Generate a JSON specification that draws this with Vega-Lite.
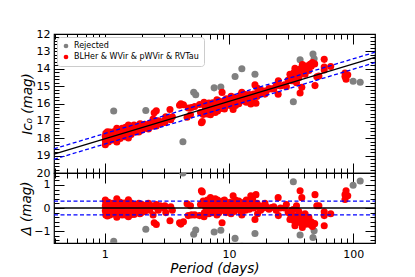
{
  "$schema": "https://vega.github.io/schema/vega-lite/v6.json",
  "padding": {"left": 19, "top": 27, "right": 5, "bottom": 0},
  "background": "white",
  "spacing": 0,
  "bounds": "flush",
  "config": {
    "view": {"stroke": "black", "strokeWidth": 1.2},
    "axis": {"domain": false, "grid": false, "tickColor": "black", "tickWidth": 1, "labelColor": "black", "labelFont": "DejaVu Sans", "labelFontSize": 11, "titleFont": "DejaVu Sans", "titleFontSize": 13.5, "titleFontWeight": "normal", "titleFontStyle": "italic", "titleColor": "black", "labelFlush": false, "labelOverlap": false, "labelBound": false}
  },
  "datasets": {
    "pts": [
      {"P":1.18,"m":16.43,"d":-1.45,"c":"Rejected"},
      {"P":2.14,"m":16.40,"d":-0.92,"c":"Rejected"},
      {"P":4.26,"m":18.20,"d":1.52,"c":"Rejected"},
      {"P":5.2,"m":15.35,"d":-1.14,"c":"Rejected"},
      {"P":5.4,"m":15.50,"d":-0.96,"c":"Rejected"},
      {"P":7.6,"m":15.10,"d":-1.04,"c":"Rejected"},
      {"P":8.6,"m":15.05,"d":-0.97,"c":"Rejected"},
      {"P":11.2,"m":14.45,"d":-1.32,"c":"Rejected"},
      {"P":12.7,"m":14.00,"d":-1.66,"c":"Rejected"},
      {"P":16.2,"m":14.32,"d":-1.11,"c":"Rejected"},
      {"P":33,"m":15.90,"d":1.14,"c":"Rejected"},
      {"P":37.4,"m":13.48,"d":-1.17,"c":"Rejected"},
      {"P":47.5,"m":13.15,"d":-1.28,"c":"Rejected"},
      {"P":48.5,"m":13.42,"d":-0.99,"c":"Rejected"},
      {"P":100,"m":14.72,"d":0.99,"c":"Rejected"},
      {"P":114,"m":14.78,"d":1.17,"c":"Rejected"},
      {"P":1.01,"m":18.37,"d":0.35,"c":"BLHer & WVir & pWVir & RVTau"},
      {"P":1.01,"m":18.12,"d":0.10,"c":"BLHer & WVir & pWVir & RVTau"},
      {"P":1.01,"m":17.90,"d":-0.12,"c":"BLHer & WVir & pWVir & RVTau"},
      {"P":1.02,"m":17.71,"d":-0.30,"c":"BLHer & WVir & pWVir & RVTau"},
      {"P":1.02,"m":18.23,"d":0.22,"c":"BLHer & WVir & pWVir & RVTau"},
      {"P":1.03,"m":17.80,"d":-0.20,"c":"BLHer & WVir & pWVir & RVTau"},
      {"P":1.03,"m":18.00,"d":0.00,"c":"BLHer & WVir & pWVir & RVTau"},
      {"P":1.04,"m":18.14,"d":0.15,"c":"BLHer & WVir & pWVir & RVTau"},
      {"P":1.05,"m":17.63,"d":-0.35,"c":"BLHer & WVir & pWVir & RVTau"},
      {"P":1.06,"m":18.03,"d":0.05,"c":"BLHer & WVir & pWVir & RVTau"},
      {"P":1.07,"m":18.22,"d":0.25,"c":"BLHer & WVir & pWVir & RVTau"},
      {"P":1.08,"m":17.81,"d":-0.15,"c":"BLHer & WVir & pWVir & RVTau"},
      {"P":1.10,"m":18.04,"d":0.10,"c":"BLHer & WVir & pWVir & RVTau"},
      {"P":1.10,"m":17.64,"d":-0.30,"c":"BLHer & WVir & pWVir & RVTau"},
      {"P":1.12,"m":17.92,"d":0.00,"c":"BLHer & WVir & pWVir & RVTau"},
      {"P":1.13,"m":17.70,"d":-0.22,"c":"BLHer & WVir & pWVir & RVTau"},
      {"P":1.15,"m":17.80,"d":-0.10,"c":"BLHer & WVir & pWVir & RVTau"},
      {"P":1.15,"m":18.10,"d":0.20,"c":"BLHer & WVir & pWVir & RVTau"},
      {"P":1.18,"m":17.63,"d":-0.25,"c":"BLHer & WVir & pWVir & RVTau"},
      {"P":1.20,"m":17.91,"d":0.05,"c":"BLHer & WVir & pWVir & RVTau"},
      {"P":1.22,"m":17.79,"d":-0.05,"c":"BLHer & WVir & pWVir & RVTau"},
      {"P":1.25,"m":18.22,"d":0.40,"c":"BLHer & WVir & pWVir & RVTau"},
      {"P":1.25,"m":17.92,"d":0.10,"c":"BLHer & WVir & pWVir & RVTau"},
      {"P":1.25,"m":17.42,"d":-0.40,"c":"BLHer & WVir & pWVir & RVTau"},
      {"P":1.27,"m":18.03,"d":0.22,"c":"BLHer & WVir & pWVir & RVTau"},
      {"P":1.28,"m":17.60,"d":-0.20,"c":"BLHer & WVir & pWVir & RVTau"},
      {"P":1.30,"m":17.79,"d":0.00,"c":"BLHer & WVir & pWVir & RVTau"},
      {"P":1.32,"m":17.67,"d":-0.10,"c":"BLHer & WVir & pWVir & RVTau"},
      {"P":1.33,"m":18.01,"d":0.25,"c":"BLHer & WVir & pWVir & RVTau"},
      {"P":1.35,"m":17.90,"d":0.15,"c":"BLHer & WVir & pWVir & RVTau"},
      {"P":1.36,"m":17.66,"d":-0.08,"c":"BLHer & WVir & pWVir & RVTau"},
      {"P":1.38,"m":17.43,"d":-0.30,"c":"BLHer & WVir & pWVir & RVTau"},
      {"P":1.40,"m":17.77,"d":0.05,"c":"BLHer & WVir & pWVir & RVTau"},
      {"P":1.42,"m":17.55,"d":-0.15,"c":"BLHer & WVir & pWVir & RVTau"},
      {"P":1.44,"m":17.91,"d":0.22,"c":"BLHer & WVir & pWVir & RVTau"},
      {"P":1.45,"m":17.78,"d":0.10,"c":"BLHer & WVir & pWVir & RVTau"},
      {"P":1.47,"m":17.37,"d":-0.30,"c":"BLHer & WVir & pWVir & RVTau"},
      {"P":1.48,"m":17.66,"d":0.00,"c":"BLHer & WVir & pWVir & RVTau"},
      {"P":1.50,"m":17.45,"d":-0.20,"c":"BLHer & WVir & pWVir & RVTau"},
      {"P":1.52,"m":17.79,"d":0.15,"c":"BLHer & WVir & pWVir & RVTau"},
      {"P":1.55,"m":17.98,"d":0.36,"c":"BLHer & WVir & pWVir & RVTau"},
      {"P":1.55,"m":17.57,"d":-0.05,"c":"BLHer & WVir & pWVir & RVTau"},
      {"P":1.55,"m":17.24,"d":-0.38,"c":"BLHer & WVir & pWVir & RVTau"},
      {"P":1.58,"m":17.80,"d":0.20,"c":"BLHer & WVir & pWVir & RVTau"},
      {"P":1.60,"m":17.29,"d":-0.30,"c":"BLHer & WVir & pWVir & RVTau"},
      {"P":1.62,"m":17.63,"d":0.05,"c":"BLHer & WVir & pWVir & RVTau"},
      {"P":1.63,"m":17.79,"d":0.22,"c":"BLHer & WVir & pWVir & RVTau"},
      {"P":1.65,"m":17.46,"d":-0.10,"c":"BLHer & WVir & pWVir & RVTau"},
      {"P":1.68,"m":17.65,"d":0.10,"c":"BLHer & WVir & pWVir & RVTau"},
      {"P":1.70,"m":17.53,"d":0.00,"c":"BLHer & WVir & pWVir & RVTau"},
      {"P":1.72,"m":17.24,"d":-0.28,"c":"BLHer & WVir & pWVir & RVTau"},
      {"P":1.75,"m":17.31,"d":-0.20,"c":"BLHer & WVir & pWVir & RVTau"},
      {"P":1.78,"m":17.64,"d":0.15,"c":"BLHer & WVir & pWVir & RVTau"},
      {"P":1.80,"m":17.53,"d":0.05,"c":"BLHer & WVir & pWVir & RVTau"},
      {"P":1.85,"m":17.36,"d":-0.10,"c":"BLHer & WVir & pWVir & RVTau"},
      {"P":1.88,"m":17.64,"d":0.20,"c":"BLHer & WVir & pWVir & RVTau"},
      {"P":1.90,"m":17.53,"d":0.10,"c":"BLHer & WVir & pWVir & RVTau"},
      {"P":1.92,"m":17.17,"d":-0.25,"c":"BLHer & WVir & pWVir & RVTau"},
      {"P":1.95,"m":17.46,"d":0.05,"c":"BLHer & WVir & pWVir & RVTau"},
      {"P":1.98,"m":17.19,"d":-0.20,"c":"BLHer & WVir & pWVir & RVTau"},
      {"P":2.00,"m":17.53,"d":0.15,"c":"BLHer & WVir & pWVir & RVTau"},
      {"P":2.00,"m":17.33,"d":-0.05,"c":"BLHer & WVir & pWVir & RVTau"},
      {"P":2.05,"m":17.36,"d":0.00,"c":"BLHer & WVir & pWVir & RVTau"},
      {"P":2.10,"m":17.19,"d":-0.15,"c":"BLHer & WVir & pWVir & RVTau"},
      {"P":2.15,"m":17.42,"d":0.10,"c":"BLHer & WVir & pWVir & RVTau"},
      {"P":2.20,"m":17.34,"d":0.05,"c":"BLHer & WVir & pWVir & RVTau"},
      {"P":2.25,"m":17.47,"d":0.20,"c":"BLHer & WVir & pWVir & RVTau"},
      {"P":2.30,"m":17.15,"d":-0.10,"c":"BLHer & WVir & pWVir & RVTau"},
      {"P":2.40,"m":17.31,"d":0.10,"c":"BLHer & WVir & pWVir & RVTau"},
      {"P":2.45,"m":16.89,"d":-0.30,"c":"BLHer & WVir & pWVir & RVTau"},
      {"P":2.50,"m":16.53,"d":-0.64,"c":"BLHer & WVir & pWVir & RVTau"},
      {"P":2.55,"m":17.21,"d":0.05,"c":"BLHer & WVir & pWVir & RVTau"},
      {"P":2.60,"m":16.42,"d":-0.72,"c":"BLHer & WVir & pWVir & RVTau"},
      {"P":2.60,"m":17.29,"d":0.15,"c":"BLHer & WVir & pWVir & RVTau"},
      {"P":2.70,"m":17.00,"d":-0.10,"c":"BLHer & WVir & pWVir & RVTau"},
      {"P":2.80,"m":17.17,"d":0.10,"c":"BLHer & WVir & pWVir & RVTau"},
      {"P":3.00,"m":17.00,"d":0.00,"c":"BLHer & WVir & pWVir & RVTau"},
      {"P":3.05,"m":17.09,"d":0.10,"c":"BLHer & WVir & pWVir & RVTau"},
      {"P":3.10,"m":16.77,"d":-0.20,"c":"BLHer & WVir & pWVir & RVTau"},
      {"P":3.35,"m":16.35,"d":-0.55,"c":"BLHer & WVir & pWVir & RVTau"},
      {"P":3.40,"m":16.94,"d":0.05,"c":"BLHer & WVir & pWVir & RVTau"},
      {"P":3.50,"m":16.76,"d":-0.10,"c":"BLHer & WVir & pWVir & RVTau"},
      {"P":4.0,"m":16.10,"d":-0.64,"c":"BLHer & WVir & pWVir & RVTau"},
      {"P":4.1,"m":16.01,"d":-0.70,"c":"BLHer & WVir & pWVir & RVTau"},
      {"P":4.3,"m":16.07,"d":-0.60,"c":"BLHer & WVir & pWVir & RVTau"},
      {"P":4.6,"m":16.79,"d":0.18,"c":"BLHer & WVir & pWVir & RVTau"},
      {"P":4.7,"m":16.26,"d":-0.33,"c":"BLHer & WVir & pWVir & RVTau"},
      {"P":4.9,"m":16.65,"d":0.10,"c":"BLHer & WVir & pWVir & RVTau"},
      {"P":5.0,"m":16.23,"d":-0.30,"c":"BLHer & WVir & pWVir & RVTau"},
      {"P":5.3,"m":16.17,"d":-0.30,"c":"BLHer & WVir & pWVir & RVTau"},
      {"P":5.8,"m":16.06,"d":-0.33,"c":"BLHer & WVir & pWVir & RVTau"},
      {"P":5.9,"m":16.52,"d":0.15,"c":"BLHer & WVir & pWVir & RVTau"},
      {"P":6.0,"m":17.11,"d":0.75,"c":"BLHer & WVir & pWVir & RVTau"},
      {"P":6.1,"m":17.04,"d":0.70,"c":"BLHer & WVir & pWVir & RVTau"},
      {"P":6.2,"m":16.63,"d":0.30,"c":"BLHer & WVir & pWVir & RVTau"},
      {"P":6.3,"m":15.93,"d":-0.38,"c":"BLHer & WVir & pWVir & RVTau"},
      {"P":6.35,"m":16.10,"d":-0.20,"c":"BLHer & WVir & pWVir & RVTau"},
      {"P":6.4,"m":16.40,"d":0.10,"c":"BLHer & WVir & pWVir & RVTau"},
      {"P":6.5,"m":16.48,"d":0.20,"c":"BLHer & WVir & pWVir & RVTau"},
      {"P":6.6,"m":16.17,"d":-0.10,"c":"BLHer & WVir & pWVir & RVTau"},
      {"P":6.7,"m":16.60,"d":0.35,"c":"BLHer & WVir & pWVir & RVTau"},
      {"P":6.8,"m":16.24,"d":0.00,"c":"BLHer & WVir & pWVir & RVTau"},
      {"P":6.9,"m":15.98,"d":-0.25,"c":"BLHer & WVir & pWVir & RVTau"},
      {"P":7.0,"m":16.36,"d":0.15,"c":"BLHer & WVir & pWVir & RVTau"},
      {"P":7.05,"m":16.06,"d":-0.15,"c":"BLHer & WVir & pWVir & RVTau"},
      {"P":7.1,"m":16.65,"d":0.45,"c":"BLHer & WVir & pWVir & RVTau"},
      {"P":7.2,"m":16.14,"d":-0.05,"c":"BLHer & WVir & pWVir & RVTau"},
      {"P":7.3,"m":16.42,"d":0.25,"c":"BLHer & WVir & pWVir & RVTau"},
      {"P":7.4,"m":15.96,"d":-0.20,"c":"BLHer & WVir & pWVir & RVTau"},
      {"P":7.5,"m":16.25,"d":0.10,"c":"BLHer & WVir & pWVir & RVTau"},
      {"P":7.6,"m":16.44,"d":0.30,"c":"BLHer & WVir & pWVir & RVTau"},
      {"P":7.7,"m":16.02,"d":-0.10,"c":"BLHer & WVir & pWVir & RVTau"},
      {"P":7.75,"m":16.52,"d":0.40,"c":"BLHer & WVir & pWVir & RVTau"},
      {"P":7.8,"m":16.16,"d":0.05,"c":"BLHer & WVir & pWVir & RVTau"},
      {"P":7.9,"m":16.30,"d":0.20,"c":"BLHer & WVir & pWVir & RVTau"},
      {"P":8.0,"m":15.79,"d":-0.30,"c":"BLHer & WVir & pWVir & RVTau"},
      {"P":8.1,"m":16.43,"d":0.35,"c":"BLHer & WVir & pWVir & RVTau"},
      {"P":8.2,"m":16.06,"d":0.00,"c":"BLHer & WVir & pWVir & RVTau"},
      {"P":8.25,"m":15.84,"d":-0.22,"c":"BLHer & WVir & pWVir & RVTau"},
      {"P":8.3,"m":16.20,"d":0.15,"c":"BLHer & WVir & pWVir & RVTau"},
      {"P":8.4,"m":15.89,"d":-0.15,"c":"BLHer & WVir & pWVir & RVTau"},
      {"P":8.5,"m":16.28,"d":0.25,"c":"BLHer & WVir & pWVir & RVTau"},
      {"P":8.6,"m":16.07,"d":0.05,"c":"BLHer & WVir & pWVir & RVTau"},
      {"P":8.8,"m":15.36,"d":-0.64,"c":"BLHer & WVir & pWVir & RVTau"},
      {"P":8.9,"m":16.29,"d":0.30,"c":"BLHer & WVir & pWVir & RVTau"},
      {"P":9.0,"m":15.88,"d":-0.10,"c":"BLHer & WVir & pWVir & RVTau"},
      {"P":9.1,"m":16.07,"d":0.10,"c":"BLHer & WVir & pWVir & RVTau"},
      {"P":9.2,"m":16.31,"d":0.35,"c":"BLHer & WVir & pWVir & RVTau"},
      {"P":9.3,"m":16.15,"d":0.20,"c":"BLHer & WVir & pWVir & RVTau"},
      {"P":9.5,"m":15.73,"d":-0.20,"c":"BLHer & WVir & pWVir & RVTau"},
      {"P":9.6,"m":15.92,"d":0.00,"c":"BLHer & WVir & pWVir & RVTau"},
      {"P":9.8,"m":16.05,"d":0.15,"c":"BLHer & WVir & pWVir & RVTau"},
      {"P":10.0,"m":15.83,"d":-0.05,"c":"BLHer & WVir & pWVir & RVTau"},
      {"P":10.2,"m":16.11,"d":0.25,"c":"BLHer & WVir & pWVir & RVTau"},
      {"P":10.4,"m":15.59,"d":-0.25,"c":"BLHer & WVir & pWVir & RVTau"},
      {"P":10.5,"m":15.88,"d":0.05,"c":"BLHer & WVir & pWVir & RVTau"},
      {"P":10.8,"m":16.34,"d":0.53,"c":"BLHer & WVir & pWVir & RVTau"},
      {"P":11.0,"m":15.64,"d":-0.15,"c":"BLHer & WVir & pWVir & RVTau"},
      {"P":11.2,"m":15.87,"d":0.10,"c":"BLHer & WVir & pWVir & RVTau"},
      {"P":11.3,"m":16.12,"d":0.35,"c":"BLHer & WVir & pWVir & RVTau"},
      {"P":11.5,"m":15.95,"d":0.20,"c":"BLHer & WVir & pWVir & RVTau"},
      {"P":11.8,"m":15.68,"d":-0.05,"c":"BLHer & WVir & pWVir & RVTau"},
      {"P":12.0,"m":16.01,"d":0.30,"c":"BLHer & WVir & pWVir & RVTau"},
      {"P":12.3,"m":15.69,"d":0.00,"c":"BLHer & WVir & pWVir & RVTau"},
      {"P":12.5,"m":15.47,"d":-0.20,"c":"BLHer & WVir & pWVir & RVTau"},
      {"P":12.7,"m":15.36,"d":-0.30,"c":"BLHer & WVir & pWVir & RVTau"},
      {"P":12.8,"m":15.80,"d":0.15,"c":"BLHer & WVir & pWVir & RVTau"},
      {"P":13.0,"m":15.69,"d":0.05,"c":"BLHer & WVir & pWVir & RVTau"},
      {"P":13.3,"m":15.86,"d":0.25,"c":"BLHer & WVir & pWVir & RVTau"},
      {"P":13.6,"m":15.49,"d":-0.10,"c":"BLHer & WVir & pWVir & RVTau"},
      {"P":13.8,"m":15.93,"d":0.35,"c":"BLHer & WVir & pWVir & RVTau"},
      {"P":14.0,"m":15.67,"d":0.10,"c":"BLHer & WVir & pWVir & RVTau"},
      {"P":14.3,"m":15.85,"d":0.30,"c":"BLHer & WVir & pWVir & RVTau"},
      {"P":14.6,"m":15.48,"d":-0.05,"c":"BLHer & WVir & pWVir & RVTau"},
      {"P":15.0,"m":16.03,"d":0.53,"c":"BLHer & WVir & pWVir & RVTau"},
      {"P":15.2,"m":15.64,"d":0.15,"c":"BLHer & WVir & pWVir & RVTau"},
      {"P":15.5,"m":15.87,"d":0.40,"c":"BLHer & WVir & pWVir & RVTau"},
      {"P":15.8,"m":15.45,"d":0.00,"c":"BLHer & WVir & pWVir & RVTau"},
      {"P":16.2,"m":14.93,"d":-0.50,"c":"BLHer & WVir & pWVir & RVTau"},
      {"P":16.5,"m":15.99,"d":0.58,"c":"BLHer & WVir & pWVir & RVTau"},
      {"P":16.8,"m":15.60,"d":0.20,"c":"BLHer & WVir & pWVir & RVTau"},
      {"P":17.0,"m":15.13,"d":-0.25,"c":"BLHer & WVir & pWVir & RVTau"},
      {"P":17.2,"m":15.42,"d":0.05,"c":"BLHer & WVir & pWVir & RVTau"},
      {"P":17.6,"m":15.45,"d":0.10,"c":"BLHer & WVir & pWVir & RVTau"},
      {"P":18.0,"m":15.23,"d":-0.10,"c":"BLHer & WVir & pWVir & RVTau"},
      {"P":18.5,"m":15.36,"d":0.05,"c":"BLHer & WVir & pWVir & RVTau"},
      {"P":19.0,"m":15.28,"d":0.00,"c":"BLHer & WVir & pWVir & RVTau"},
      {"P":19.5,"m":15.46,"d":0.20,"c":"BLHer & WVir & pWVir & RVTau"},
      {"P":20.0,"m":15.28,"d":0.05,"c":"BLHer & WVir & pWVir & RVTau"},
      {"P":21.0,"m":15.14,"d":-0.05,"c":"BLHer & WVir & pWVir & RVTau"},
      {"P":22.0,"m":15.16,"d":0.02,"c":"BLHer & WVir & pWVir & RVTau"},
      {"P":23.0,"m":15.15,"d":0.05,"c":"BLHer & WVir & pWVir & RVTau"},
      {"P":24.0,"m":14.96,"d":-0.10,"c":"BLHer & WVir & pWVir & RVTau"},
      {"P":24.9,"m":15.47,"d":0.45,"c":"BLHer & WVir & pWVir & RVTau"},
      {"P":25.0,"m":14.69,"d":-0.33,"c":"BLHer & WVir & pWVir & RVTau"},
      {"P":26.0,"m":14.99,"d":0.00,"c":"BLHer & WVir & pWVir & RVTau"},
      {"P":28,"m":14.92,"d":0.00,"c":"BLHer & WVir & pWVir & RVTau"},
      {"P":29,"m":15.04,"d":0.15,"c":"BLHer & WVir & pWVir & RVTau"},
      {"P":30,"m":14.65,"d":-0.20,"c":"BLHer & WVir & pWVir & RVTau"},
      {"P":31,"m":14.32,"d":-0.50,"c":"BLHer & WVir & pWVir & RVTau"},
      {"P":31.5,"m":14.51,"d":-0.30,"c":"BLHer & WVir & pWVir & RVTau"},
      {"P":32,"m":14.69,"d":-0.10,"c":"BLHer & WVir & pWVir & RVTau"},
      {"P":33,"m":14.69,"d":-0.07,"c":"BLHer & WVir & pWVir & RVTau"},
      {"P":33.5,"m":14.20,"d":-0.55,"c":"BLHer & WVir & pWVir & RVTau"},
      {"P":34,"m":13.97,"d":-0.77,"c":"BLHer & WVir & pWVir & RVTau"},
      {"P":34.5,"m":14.37,"d":-0.35,"c":"BLHer & WVir & pWVir & RVTau"},
      {"P":35,"m":14.81,"d":0.10,"c":"BLHer & WVir & pWVir & RVTau"},
      {"P":35.5,"m":14.10,"d":-0.60,"c":"BLHer & WVir & pWVir & RVTau"},
      {"P":36,"m":14.23,"d":-0.45,"c":"BLHer & WVir & pWVir & RVTau"},
      {"P":36.5,"m":14.52,"d":-0.15,"c":"BLHer & WVir & pWVir & RVTau"},
      {"P":37,"m":14.36,"d":-0.30,"c":"BLHer & WVir & pWVir & RVTau"},
      {"P":37.4,"m":15.40,"d":0.75,"c":"BLHer & WVir & pWVir & RVTau"},
      {"P":38,"m":13.98,"d":-0.65,"c":"BLHer & WVir & pWVir & RVTau"},
      {"P":38.6,"m":15.07,"d":0.45,"c":"BLHer & WVir & pWVir & RVTau"},
      {"P":39,"m":13.76,"d":-0.85,"c":"BLHer & WVir & pWVir & RVTau"},
      {"P":40,"m":14.09,"d":-0.50,"c":"BLHer & WVir & pWVir & RVTau"},
      {"P":41,"m":14.31,"d":-0.25,"c":"BLHer & WVir & pWVir & RVTau"},
      {"P":42,"m":13.84,"d":-0.70,"c":"BLHer & WVir & pWVir & RVTau"},
      {"P":43,"m":13.97,"d":-0.55,"c":"BLHer & WVir & pWVir & RVTau"},
      {"P":44,"m":14.10,"d":-0.40,"c":"BLHer & WVir & pWVir & RVTau"},
      {"P":45,"m":13.75,"d":-0.72,"c":"BLHer & WVir & pWVir & RVTau"},
      {"P":46,"m":13.86,"d":-0.60,"c":"BLHer & WVir & pWVir & RVTau"},
      {"P":47,"m":13.64,"d":-0.80,"c":"BLHer & WVir & pWVir & RVTau"},
      {"P":49,"m":13.72,"d":-0.68,"c":"BLHer & WVir & pWVir & RVTau"},
      {"P":49.3,"m":14.97,"d":0.58,"c":"BLHer & WVir & pWVir & RVTau"},
      {"P":51,"m":14.46,"d":0.10,"c":"BLHer & WVir & pWVir & RVTau"},
      {"P":53,"m":14.42,"d":0.10,"c":"BLHer & WVir & pWVir & RVTau"},
      {"P":58.5,"m":14.07,"d":-0.16,"c":"BLHer & WVir & pWVir & RVTau"},
      {"P":58.5,"m":13.90,"d":-0.33,"c":"BLHer & WVir & pWVir & RVTau"},
      {"P":58.5,"m":13.46,"d":-0.77,"c":"BLHer & WVir & pWVir & RVTau"},
      {"P":66,"m":13.87,"d":-0.25,"c":"BLHer & WVir & pWVir & RVTau"},
      {"P":86,"m":14.45,"d":0.58,"c":"BLHer & WVir & pWVir & RVTau"},
      {"P":86,"m":14.24,"d":0.37,"c":"BLHer & WVir & pWVir & RVTau"},
      {"P":87.7,"m":14.60,"d":0.75,"c":"BLHer & WVir & pWVir & RVTau"},
      {"P":90.5,"m":14.35,"d":0.53,"c":"BLHer & WVir & pWVir & RVTau"}
    ],
    "fit": [{"P":0.39,"m":18.91,"d":0},{"P":150,"m":13.35,"d":0}],
    "up": [{"P":0.39,"m":18.61,"d":0.3},{"P":150,"m":13.05,"d":0.3}],
    "lo": [{"P":0.39,"m":19.21,"d":-0.3},{"P":150,"m":13.65,"d":-0.3}]
  },
  "vconcat": [
    {
      "width": 321,
      "height": 139,
      "resolve": {"axis": {"x": "independent", "y": "independent"}},
      "layer": [
        {
          "data": {"name": "pts"},
          "mark": {"type": "point", "filled": true, "size": 50, "opacity": 1, "strokeWidth": 0},
          "encoding": {
            "x": {"field": "P", "type": "quantitative", "scale": {"type": "log", "domain": [0.39, 150], "nice": false}, "axis": {"orient": "bottom", "values": [1, 10, 100], "tickSize": -10, "labels": false, "title": null}},
            "y": {"field": "m", "type": "quantitative", "scale": {"domain": [12, 20], "reverse": true, "nice": false, "zero": false}, "axis": {"orient": "left", "values": [12, 13, 14, 15, 16, 17, 18, 19, 20], "tickSize": -10, "labelPadding": 14, "title": "Ic₀ (mag)", "titlePadding": 2}},
            "color": {"field": "c", "type": "nominal", "scale": {"domain": ["Rejected", "BLHer & WVir & pWVir & RVTau"], "range": ["#808080", "#ff0000"]}, "legend": {"title": null, "orient": "top-left", "offset": 3, "padding": 5, "fillColor": "white", "strokeColor": "#cccccc", "cornerRadius": 3, "labelFontSize": 8, "labelFont": "DejaVu Sans", "labelColor": "black", "symbolSize": 22, "symbolType": "circle", "rowPadding": 3, "labelOffset": 4}}
          }
        },
        {
          "data": {"name": "fit"},
          "mark": {"type": "line", "color": "black", "strokeWidth": 1.3},
          "encoding": {
            "x": {"field": "P", "type": "quantitative", "scale": {"type": "log", "domain": [0.39, 150], "nice": false}, "axis": {"orient": "bottom", "values": [0.4, 0.5, 0.6, 0.7, 0.8, 0.9, 2, 3, 4, 5, 6, 7, 8, 9, 20, 30, 40, 50, 60, 70, 80, 90], "tickSize": -5, "labels": false, "title": null}},
            "y": {"field": "m", "type": "quantitative", "scale": {"domain": [12, 20], "reverse": true, "nice": false, "zero": false}, "axis": {"orient": "left", "values": [12.2, 12.4, 12.6, 12.8, 13.2, 13.4, 13.6, 13.8, 14.2, 14.4, 14.6, 14.8, 15.2, 15.4, 15.6, 15.8, 16.2, 16.4, 16.6, 16.8, 17.2, 17.4, 17.6, 17.8, 18.2, 18.4, 18.6, 18.8, 19.2, 19.4, 19.6, 19.8], "tickSize": -5, "labels": false, "title": null}}
          }
        },
        {
          "data": {"name": "up"},
          "mark": {"type": "line", "color": "#0000ff", "strokeWidth": 1.3, "strokeDash": [4, 2.5]},
          "encoding": {
            "x": {"field": "P", "type": "quantitative", "scale": {"type": "log", "domain": [0.39, 150], "nice": false}, "axis": {"orient": "top", "values": [1, 10, 100], "tickSize": -10, "labels": false, "title": null}},
            "y": {"field": "m", "type": "quantitative", "scale": {"domain": [12, 20], "reverse": true, "nice": false, "zero": false}, "axis": {"orient": "right", "values": [12, 13, 14, 15, 16, 17, 18, 19, 20], "tickSize": -10, "labels": false, "title": null}}
          }
        },
        {
          "data": {"name": "lo"},
          "mark": {"type": "line", "color": "#0000ff", "strokeWidth": 1.3, "strokeDash": [4, 2.5]},
          "encoding": {
            "x": {"field": "P", "type": "quantitative", "scale": {"type": "log", "domain": [0.39, 150], "nice": false}, "axis": {"orient": "top", "values": [0.4, 0.5, 0.6, 0.7, 0.8, 0.9, 2, 3, 4, 5, 6, 7, 8, 9, 20, 30, 40, 50, 60, 70, 80, 90], "tickSize": -5, "labels": false, "title": null}},
            "y": {"field": "m", "type": "quantitative", "scale": {"domain": [12, 20], "reverse": true, "nice": false, "zero": false}, "axis": {"orient": "right", "values": [12.2, 12.4, 12.6, 12.8, 13.2, 13.4, 13.6, 13.8, 14.2, 14.4, 14.6, 14.8, 15.2, 15.4, 15.6, 15.8, 16.2, 16.4, 16.6, 16.8, 17.2, 17.4, 17.6, 17.8, 18.2, 18.4, 18.6, 18.8, 19.2, 19.4, 19.6, 19.8], "tickSize": -5, "labels": false, "title": null}}
          }
        }
      ]
    },
    {
      "width": 321,
      "height": 70,
      "resolve": {"axis": {"x": "independent", "y": "independent"}},
      "layer": [
        {
          "data": {"name": "pts"},
          "mark": {"type": "point", "filled": true, "size": 50, "opacity": 1, "strokeWidth": 0, "clip": true},
          "encoding": {
            "x": {"field": "P", "type": "quantitative", "scale": {"type": "log", "domain": [0.39, 150], "nice": false}, "axis": {"orient": "bottom", "values": [1, 10, 100], "tickSize": -10, "labelPadding": 15, "title": "Period (days)", "titlePadding": 2.5}},
            "y": {"field": "d", "type": "quantitative", "scale": {"domain": [-1.52, 1.52], "nice": false, "zero": false}, "axis": {"orient": "left", "values": [-1, 0, 1], "tickSize": -10, "labelPadding": 14, "title": "Δ (mag)", "titlePadding": 0}},
            "color": {"field": "c", "type": "nominal", "scale": {"domain": ["Rejected", "BLHer & WVir & pWVir & RVTau"], "range": ["#808080", "#ff0000"]}, "legend": null}
          }
        },
        {
          "data": {"name": "fit"},
          "mark": {"type": "line", "color": "black", "strokeWidth": 1.3},
          "encoding": {
            "x": {"field": "P", "type": "quantitative", "scale": {"type": "log", "domain": [0.39, 150], "nice": false}, "axis": {"orient": "bottom", "values": [0.4, 0.5, 0.6, 0.7, 0.8, 0.9, 2, 3, 4, 5, 6, 7, 8, 9, 20, 30, 40, 50, 60, 70, 80, 90], "tickSize": -5, "labels": false, "title": null}},
            "y": {"field": "d", "type": "quantitative", "scale": {"domain": [-1.52, 1.52], "nice": false, "zero": false}, "axis": {"orient": "left", "values": [-1.4, -1.2, -0.8, -0.6, -0.4, -0.2, 0.2, 0.4, 0.6, 0.8, 1.2, 1.4], "tickSize": -5, "labels": false, "title": null}}
          }
        },
        {
          "data": {"name": "up"},
          "mark": {"type": "line", "color": "#0000ff", "strokeWidth": 1.3, "strokeDash": [4, 2.5]},
          "encoding": {
            "x": {"field": "P", "type": "quantitative", "scale": {"type": "log", "domain": [0.39, 150], "nice": false}, "axis": {"orient": "top", "values": [1, 10, 100], "tickSize": -10, "labels": false, "title": null}},
            "y": {"field": "d", "type": "quantitative", "scale": {"domain": [-1.52, 1.52], "nice": false, "zero": false}, "axis": {"orient": "right", "values": [-1, 0, 1], "tickSize": -10, "labels": false, "title": null}}
          }
        },
        {
          "data": {"name": "lo"},
          "mark": {"type": "line", "color": "#0000ff", "strokeWidth": 1.3, "strokeDash": [4, 2.5]},
          "encoding": {
            "x": {"field": "P", "type": "quantitative", "scale": {"type": "log", "domain": [0.39, 150], "nice": false}, "axis": {"orient": "top", "values": [0.4, 0.5, 0.6, 0.7, 0.8, 0.9, 2, 3, 4, 5, 6, 7, 8, 9, 20, 30, 40, 50, 60, 70, 80, 90], "tickSize": -5, "labels": false, "title": null}},
            "y": {"field": "d", "type": "quantitative", "scale": {"domain": [-1.52, 1.52], "nice": false, "zero": false}, "axis": {"orient": "right", "values": [-1.4, -1.2, -0.8, -0.6, -0.4, -0.2, 0.2, 0.4, 0.6, 0.8, 1.2, 1.4], "tickSize": -5, "labels": false, "title": null}}
          }
        }
      ]
    }
  ],
  "resolve": {"scale": {"color": "independent"}, "legend": {"color": "independent"}}
}
